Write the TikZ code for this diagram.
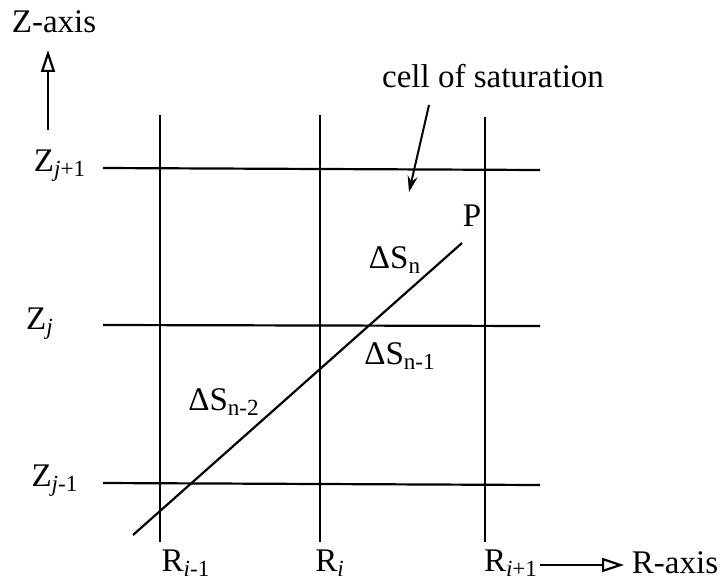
\documentclass[tikz,border=0pt]{standalone}
\usepackage{fontspec}
\setmainfont{Liberation Serif}
\usetikzlibrary{arrows.meta}
\newcommand{\sbs}[1]{\textsubscript{#1}}
\begin{document}
\begin{tikzpicture}[x=0.5pt,y=-0.5pt,
  lbl/.style={inner sep=1pt,font=\fontsize{16.5}{19}\selectfont},
  gridline/.style={line width=1.1pt},
  axarrow/.style={line width=1.1pt,-{Triangle[open,length=11pt,width=7pt]}},
  ptr/.style={line width=1pt,-{Stealth[length=8pt,width=5pt]}}]
\useasboundingbox (0,0) rectangle (726,583);
% grid coordinates
\coordinate (v1t) at (160,115); \coordinate (v1b) at (160,542);
\coordinate (v2t) at (320,115); \coordinate (v2b) at (320,542);
\coordinate (v3t) at (485,117); \coordinate (v3b) at (485,542);
\coordinate (h1l) at (103,168); \coordinate (h1r) at (540,170);
\coordinate (h2l) at (103,325); \coordinate (h2r) at (540,326);
\coordinate (h3l) at (103,483); \coordinate (h3r) at (540,485);
\draw[gridline] (v1t) -- (v1b);
\draw[gridline] (v2t) -- (v2b);
\draw[gridline] (v3t) -- (v3b);
\draw[gridline] (h1l) -- (h1r);
\draw[gridline] (h2l) -- (h2r);
\draw[gridline] (h3l) -- (h3r);
% diagonal
\coordinate (dlo) at (133,535);
\coordinate (dhi) at (462,243);
\draw[gridline] (dlo) -- (dhi);
% labels
\node[lbl] (zaxis) at (54,22) {Z-axis};
\coordinate (zs) at (48,130);
\coordinate (ze) at (48,50);
\draw[axarrow] (zs) -- (ze);
\node[lbl] (zj1) at (60,166) {Z\sbs{\textit{j}+1}};
\node[lbl] (zj) at (40,324) {Z\sbs{\textit{j}}};
\node[lbl] (zjm) at (55,481) {Z\sbs{\textit{j}-1}};
\node[lbl] (rim) at (186,563) {R\sbs{\textit{i}-1}};
\node[lbl] (ri) at (330,563) {R\sbs{\textit{i}}};
\node[lbl] (rip) at (511,563) {R\sbs{\textit{i}+1}};
\coordinate (rs) at (540,565);
\coordinate (re) at (624,565);
\draw[axarrow] (rs) -- (re);
\node[lbl] (raxis) at (675,563) {R-axis};
\node[lbl] (cell) at (493,76) {cell of saturation};
\coordinate (cs) at (429,105);
\coordinate (ce) at (409,192);
\draw[ptr] (cs) -- (ce);
\node[lbl] (p) at (472,216) {P};
\node[lbl] (dsn) at (395,260) {ΔS\sbs{n}};
\node[lbl] (dsn1) at (400,356) {ΔS\sbs{n-1}};
\node[lbl] (dsn2) at (224,402) {ΔS\sbs{n-2}};
\end{tikzpicture}
\end{document}
